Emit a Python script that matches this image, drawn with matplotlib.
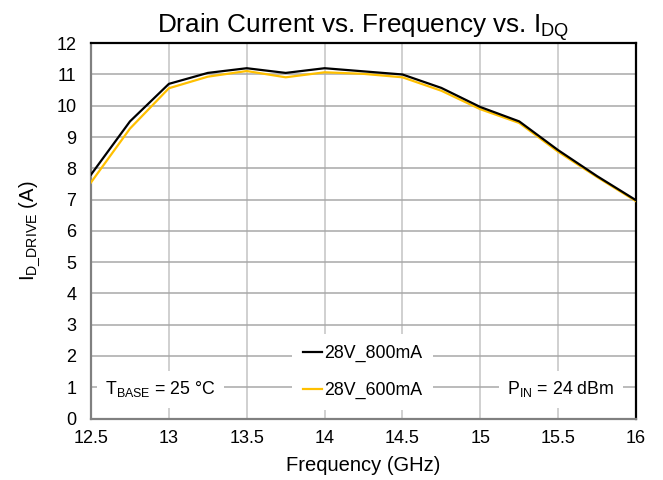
import matplotlib
matplotlib.use("Agg")
import matplotlib.pyplot as plt

plt.rcParams['font.family'] = ['Liberation Sans', 'DejaVu Sans']
plt.rcParams['mathtext.fontset'] = 'custom'
plt.rcParams['mathtext.rm'] = 'Liberation Sans'
plt.rcParams['mathtext.it'] = 'Liberation Sans:italic'
plt.rcParams['mathtext.bf'] = 'Liberation Sans:bold'

freq = [12.5, 12.75, 13.0, 13.25, 13.5, 13.75, 14.0, 14.25, 14.5, 14.75, 15.0, 15.25, 15.5, 15.75, 16.0]
i_800 = [7.8, 9.5, 10.7, 11.05, 11.2, 11.05, 11.2, 11.1, 11.0, 10.57, 9.96, 9.5, 8.58, 7.75, 6.98]
i_600 = [7.55, 9.27, 10.56, 10.93, 11.11, 10.91, 11.07, 11.02, 10.91, 10.48, 9.89, 9.45, 8.53, 7.72, 6.95]
series_labels = ['28V_800mA', '28V_600mA']
series_colors = ['#000000', '#FFC000']
x_ticks = [12.5, 13, 13.5, 14, 14.5, 15, 15.5, 16]
x_tick_labels = ['12.5', '13', '13.5', '14', '14.5', '15', '15.5', '16']
y_ticks = list(range(0, 13))

fig = plt.figure(figsize=(6.63, 4.80), dpi=100)
ax = fig.add_axes([0.1373, 0.128, 0.822, 0.782])

ax.set_xlim(12.5, 16)
ax.set_ylim(0, 12)
ax.set_xticks(x_ticks)
ax.set_xticklabels(x_tick_labels)
ax.set_yticks(y_ticks)
ax.tick_params(axis='both', length=0, labelsize=13)
ax.tick_params(axis='x', pad=8.5)
ax.tick_params(axis='y', pad=10.5)

ax.yaxis.grid(True, color='#a8a8a8', linewidth=1.1)
ax.xaxis.grid(True, color='#c4c4c4', linewidth=1.1)
ax.set_axisbelow(True)

for side in ['top', 'right']:
    ax.spines[side].set_color('black')
    ax.spines[side].set_linewidth(1.6)
for side in ['left', 'bottom']:
    ax.spines[side].set_color('#808080')
    ax.spines[side].set_linewidth(1.6)

l2, = ax.plot(freq, i_600, color=series_colors[1], linewidth=1.6, label=series_labels[1], zorder=3)
l1, = ax.plot(freq, i_800, color=series_colors[0], linewidth=1.6, label=series_labels[0], zorder=4)

leg = ax.legend([l1, l2], series_labels, loc='center', bbox_to_anchor=(0.498, 0.124),
                fontsize=12.8, frameon=True, fancybox=False, edgecolor='none',
                facecolor='white', framealpha=1.0, handlelength=1.1, handletextpad=0.1,
                labelspacing=1.1, borderpad=0.6, borderaxespad=0)
leg.set_zorder(5)

ax.text(0.127, 0.078, r'$\mathregular{T_{BASE}}$ = 25 °C', transform=ax.transAxes,
        ha='center', va='center', fontsize=12.8,
        bbox=dict(facecolor='white', edgecolor='none', pad=6), zorder=5)
ax.text(0.862, 0.078, r'$\mathregular{P_{IN}}$ = 24 dBm', transform=ax.transAxes,
        ha='center', va='center', fontsize=12.8,
        bbox=dict(facecolor='white', edgecolor='none', pad=6), zorder=5)

ax.set_title(r'Drain Current vs. Frequency vs. $\mathregular{I_{DQ}}$', fontsize=18.8, pad=3)
ax.set_xlabel('Frequency (GHz)', fontsize=14.5, labelpad=6.5)
ax.set_ylabel(r'$\mathregular{I_{D\_DRIVE}}$ (A)', fontsize=14.5, labelpad=10)

fig.savefig('out.png', dpi=100)
